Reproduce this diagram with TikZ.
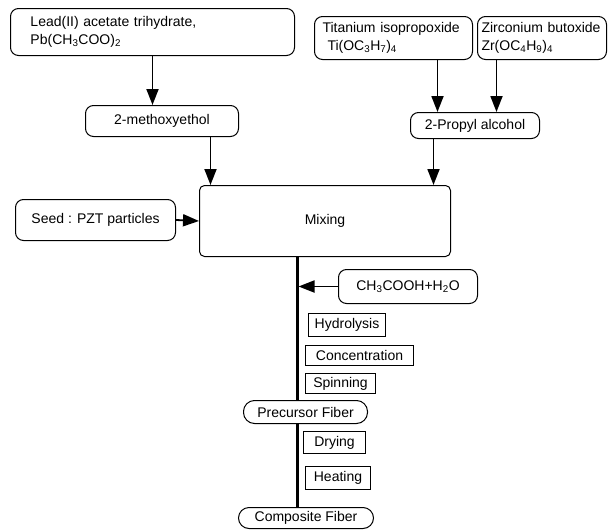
\documentclass[tikz,border=0pt]{standalone}
\usepackage{fontspec}
\setmainfont{Liberation Sans}
\usepackage{tikz}
\usetikzlibrary{calc,arrows.meta}

\newcommand{\chsub}[1]{\textsubscript{#1}}

\tikzset{
	rbox/.style={draw, line width=1pt, rounded corners=8pt, inner sep=0pt, anchor=north west},
	sbox/.style={draw, line width=1pt, inner sep=0pt, anchor=north west},
	fbox/.style={draw, line width=1pt, rounded corners=11pt, inner sep=0pt, anchor=north west},
	flow/.style={-{Triangle[length=16pt,width=12pt]}, line width=1.8pt},
	spine/.style={line width=3pt}
}

\begin{document}
\begin{tikzpicture}[x=1pt,y=-1pt,font=\fontsize{14}{18}\selectfont]
						\useasboundingbox (0,0) rectangle (608,530);
						
						% starting materials
						\node[rbox, minimum width=284, minimum height=47, inner xsep=20pt, text width=244pt, align=left] (lead) at (10,8)
						{Lead(II) acetate trihydrate,\\Pb(CH\chsub{3}COO)\chsub{2}};
						\node[rbox, minimum width=158, minimum height=43, inner xsep=8pt, text width=142pt, align=left] (ti) at (314,16)
						{\mbox{Titanium isopropoxide}\\\hspace*{5pt}Ti(OC\chsub{3}H\chsub{7})\chsub{4}};
						\node[rbox, minimum width=129, minimum height=43, inner xsep=4pt, text width=121pt, align=left] (zr) at (477,16)
						{\mbox{Zirconium butoxide}\\Zr(OC\chsub{4}H\chsub{9})\chsub{4}};
						
						% solvents
						\node[rbox, minimum width=153, minimum height=31] (meth) at (85,105) {2-methoxyethol};
						\node[rbox, minimum width=129, minimum height=26] (prop) at (410,112) {2-Propyl alcohol};
						
						\node[rbox, rounded corners=5pt, minimum width=251, minimum height=71] (mix) at (199,185) {Mixing};
						\node[rbox, minimum width=160, minimum height=41] (seed) at (15,199) {Seed : PZT particles};
						\node[rbox, minimum width=139, minimum height=34] (acid) at (338,269) {CH\chsub{3}COOH+H\chsub{2}O};
						
						% process steps
						\node[sbox, minimum width=77, minimum height=23] (hyd) at (308,313) {Hydrolysis};
						\node[sbox, minimum width=108, minimum height=20] (conc) at (305,345) {Concentration};
						\node[sbox, minimum width=70, minimum height=20] (spin) at (305,373) {Spinning};
						\node[sbox, minimum width=62, minimum height=22] (dry) at (303,431) {Drying};
						\node[sbox, minimum width=65, minimum height=23] (heat) at (305,466) {Heating};
						
						\coordinate (sp) at (297,0);
						\draw[spine] (sp |- mix.south) -- (sp |- 0,507);
						
						\node[fbox, fill=white, minimum width=124, minimum height=23] (prec) at (243,400) {Precursor Fiber};
						\node[fbox, fill=white, rounded corners=10.5pt, minimum width=135, minimum height=21] (comp) at (238,507) {Composite Fiber};
						
						\draw[flow] (lead.south) -- (lead.south |- meth.north);
						\draw[flow] ([xshift=44pt]ti.south) -- ([xshift=44pt]ti.south |- prop.north);
						\draw[flow] ([xshift=-45.5pt]zr.south) -- ([xshift=-45.5pt]zr.south |- prop.north);
						\draw[flow] ([xshift=48.5pt]meth.south) -- ([xshift=48.5pt]meth.south |- mix.north);
						\draw[flow] ([xshift=-41.5pt]prop.south) -- ([xshift=-41.5pt]prop.south |- mix.north);
						\draw[flow] (seed.east) -- (mix.west);
						\draw[flow] (acid.west) -- ([xshift=1.5pt]acid.west -| sp);
					\end{tikzpicture}
\end{document}
